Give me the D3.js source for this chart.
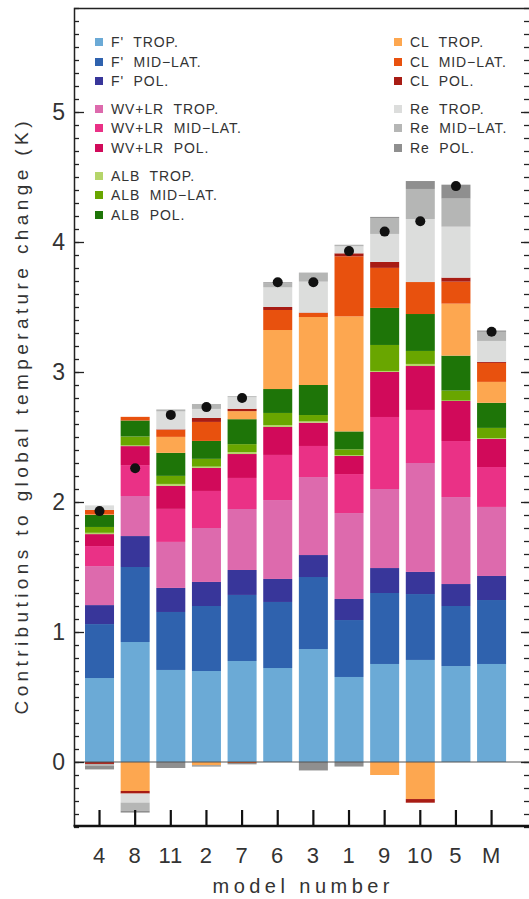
<!DOCTYPE html>
<meta charset="utf-8">
<style>

body {
  margin: 0;
  background: #fff;
}

text {
  font-family: "Liberation Sans", Arial, sans-serif;
  fill: #333;
}

.legend text {
  font-size: 14px;
  letter-spacing: 0.9px;
  white-space: pre;
}

</style>

<body>

<script src="https://d3js.org/d3.v7.min.js"></script>
<script>

// model order on the x axis
var models = ["4", "8", "11", "2", "7", "6", "3", "1", "9", "10", "5", "M"];

// contributions (K), one value per model, stacked bottom to top in this order
var fTrop   = [0.646, 0.923, 0.708, 0.700, 0.777, 0.723, 0.869, 0.654, 0.754, 0.785, 0.738, 0.754];
var fMid    = [0.415, 0.577, 0.446, 0.500, 0.508, 0.508, 0.554, 0.438, 0.546, 0.507, 0.462, 0.492];
var fPol    = [0.146, 0.238, 0.185, 0.185, 0.192, 0.177, 0.169, 0.162, 0.192, 0.170, 0.169, 0.185];
var wvTrop  = [0.300, 0.308, 0.354, 0.415, 0.469, 0.607, 0.600, 0.661, 0.608, 0.838, 0.669, 0.531];
var wvMid   = [0.154, 0.238, 0.254, 0.285, 0.239, 0.347, 0.239, 0.300, 0.554, 0.408, 0.431, 0.307];
var wvPol   = [0.092, 0.146, 0.177, 0.177, 0.184, 0.215, 0.179, 0.139, 0.346, 0.338, 0.308, 0.216];
var albTrop = [0.010, 0.005, 0.015, 0.010, 0.015, 0.015, 0.010, 0.005, 0.008, 0.016, 0.003, 0.005];
var albMid  = [0.045, 0.069, 0.062, 0.060, 0.061, 0.093, 0.049, 0.046, 0.200, 0.100, 0.077, 0.080];
var albPol  = [0.092, 0.123, 0.177, 0.138, 0.192, 0.184, 0.231, 0.138, 0.285, 0.284, 0.269, 0.193];
var clTrop  = [0.004, -0.223, 0.123, -0.025, 0.062, 0.454, 0.523, 0.885, -0.100, -0.285, 0.400, 0.161];
var clMid   = [0.035, 0.028, 0.054, 0.146, -0.008, 0.154, 0.031, 0.462, 0.308, 0.246, 0.169, 0.146];
var clPol   = [-0.015, -0.020, 0.004, 0.031, 0.018, 0.023, 0.003, 0.023, 0.046, -0.028, 0.031, 0.008];
var reTrop  = [0.035, -0.069, 0.138, 0.069, 0.089, 0.151, 0.238, 0.054, 0.215, 0.485, 0.392, 0.161];
var reMid   = [-0.012, -0.062, 0.015, 0.038, 0.008, 0.031, 0.070, 0.012, 0.123, 0.231, 0.216, 0.070];
var rePol   = [-0.030, -0.015, -0.046, -0.010, -0.010, 0.008, -0.065, -0.035, 0.008, 0.061, 0.107, 0.010];

// global temperature change (dots)
var totals = [1.93, 2.26, 2.67, 2.73, 2.80, 3.69, 3.69, 3.93, 4.08, 4.16, 4.43, 3.31];

var seriesNames = ["F'  TROP.", "F'  MID\u2212LAT.", "F'  POL.",
                   "WV+LR  TROP.", "WV+LR  MID\u2212LAT.", "WV+LR  POL.",
                   "ALB  TROP.", "ALB  MID\u2212LAT.", "ALB  POL.",
                   "CL  TROP.", "CL  MID\u2212LAT.", "CL  POL.",
                   "Re  TROP.", "Re  MID\u2212LAT.", "Re  POL."];
var seriesValues = [fTrop, fMid, fPol, wvTrop, wvMid, wvPol, albTrop, albMid, albPol,
                    clTrop, clMid, clPol, reTrop, reMid, rePol];
var colors = ["#6baad6", "#2f62ae", "#38369a",
              "#dd6aad", "#ea3186", "#d10a5a",
              "#b5d56a", "#69a600", "#1e7508",
              "#fda750", "#e8510e", "#a81c14",
              "#dcdddc", "#b5b6b5", "#8f8f8f"];

var yTickLabels = [0, 1, 2, 3, 4, 5];

var width = 529,
    height = 899;

var table = models.map(function(m, i) {
  var row = {model: m};
  seriesNames.forEach(function(s, j) { row[s] = seriesValues[j][i]; });
  return row;
});

var stacked = d3.stack()
    .keys(seriesNames)
    .offset(d3.stackOffsetDiverging)(table);

var x = d3.scaleBand()
    .domain(models)
    .range([81.7, 509.4])
    .paddingInner(0.186)
    .paddingOuter(0.093);

var y = d3.scaleLinear()
    .domain([-0.5, 5.8])
    .range([827, 8]);

var color = d3.scaleOrdinal().domain(seriesNames).range(colors);

var svg = d3.select("body").append("svg")
    .attr("width", width)
    .attr("height", height);

// bars
svg.append("g")
  .selectAll("g")
  .data(stacked)
  .enter().append("g")
    .attr("fill", function(d) { return color(d.key); })
  .selectAll("rect")
  .data(function(d) { return d; })
  .enter().append("rect")
    .attr("x", function(d) { return x(d.data.model); })
    .attr("width", x.bandwidth())
    .attr("y", function(d) { return y(Math.max(d[0], d[1])); })
    .attr("height", function(d) { return Math.abs(y(d[0]) - y(d[1])); });

// zero line
svg.append("line")
    .attr("x1", 74).attr("x2", 529)
    .attr("y1", y(0)).attr("y2", y(0))
    .attr("stroke", "#555")
    .attr("stroke-width", 1.2);

// dots
svg.append("g")
  .selectAll("circle")
  .data(totals)
  .enter().append("circle")
    .attr("cx", function(d, i) { return x(models[i]) + x.bandwidth() / 2; })
    .attr("cy", function(d) { return y(d); })
    .attr("r", 5)
    .attr("fill", "#111");

// y axes (minor + major ticks, left and right)
var minor = d3.range(-5, 59).map(function(i) { return i / 10; });

svg.append("g")
    .attr("transform", "translate(74,0)")
    .call(d3.axisLeft(y).tickValues(minor).tickSize(-5).tickFormat(""))
    .call(function(g) { g.select(".domain").remove(); });

svg.append("g")
    .attr("transform", "translate(74,0)")
    .call(d3.axisLeft(y).tickValues(yTickLabels).tickSize(-10).tickPadding(9).tickFormat(d3.format("d")))
    .call(function(g) {
      g.select(".domain").remove();
      g.selectAll("text")
        .style("font-size", "23px")
        .style("font-family", "\"Liberation Sans\", Arial, sans-serif")
        .attr("fill", "#444");
    });

svg.append("g")
    .attr("transform", "translate(529,0)")
    .call(d3.axisRight(y).tickValues(minor).tickSize(-5).tickFormat(""))
    .call(function(g) { g.select(".domain").remove(); });

svg.append("g")
    .attr("transform", "translate(529,0)")
    .call(d3.axisRight(y).tickValues(yTickLabels).tickSize(-8).tickFormat(""))
    .call(function(g) { g.select(".domain").remove(); });

svg.selectAll(".tick line")
    .attr("stroke", "#222")
    .attr("stroke-width", 1.3);

// x axis
svg.append("g")
    .attr("class", "xaxis")
    .attr("transform", "translate(0,826)")
    .call(d3.axisBottom(x).tickSize(-16).tickPadding(21))
    .call(function(g) {
      g.select(".domain").remove();
      g.selectAll("line").attr("stroke", "#111").attr("stroke-width", 2.2);
      g.selectAll("text")
        .style("font-size", "22px")
        .style("letter-spacing", "1px")
        .style("font-family", "\"Liberation Sans\", Arial, sans-serif")
        .attr("fill", "#444");
    });

// frame
svg.append("path")
    .attr("d", "M529,8.5H74.5V826")
    .attr("fill", "none")
    .attr("stroke", "#222")
    .attr("stroke-width", 1.5);

svg.append("line")
    .attr("x1", 73.5).attr("x2", 529)
    .attr("y1", 826).attr("y2", 826)
    .attr("stroke", "#111")
    .attr("stroke-width", 2.5);

// axis titles
svg.append("text")
    .attr("x", 301)
    .attr("y", 893)
    .attr("text-anchor", "middle")
    .attr("textLength", 177)
    .attr("lengthAdjust", "spacing")
    .style("font-size", "20px")
    .attr("fill", "#444")
    .text("model number");

svg.append("text")
    .attr("transform", "translate(28,418) rotate(-90)")
    .attr("text-anchor", "middle")
    .attr("textLength", 593)
    .attr("lengthAdjust", "spacing")
    .style("font-size", "19px")
    .attr("fill", "#444")
    .text("Contributions to global temperature change (K)");

// legend
var legendPos = [
  [95, 42], [95, 62], [95, 81],
  [95, 109], [95, 128], [95, 148],
  [95, 176], [95, 195], [95, 215],
  [394, 42], [394, 62], [394, 81],
  [394, 109], [394, 128], [394, 148]
];

var legend = svg.append("g")
    .attr("class", "legend")
  .selectAll("g")
  .data(seriesNames)
  .enter().append("g")
    .attr("transform", function(d, i) {
      return "translate(" + legendPos[i][0] + "," + legendPos[i][1] + ")";
    });

legend.append("rect")
    .attr("x", 0)
    .attr("y", -4)
    .attr("width", 8)
    .attr("height", 8)
    .attr("fill", function(d) { return color(d); });

legend.append("text")
    .attr("x", 16)
    .attr("y", 5)
    .text(function(d) { return d; });

</script>
</body>
